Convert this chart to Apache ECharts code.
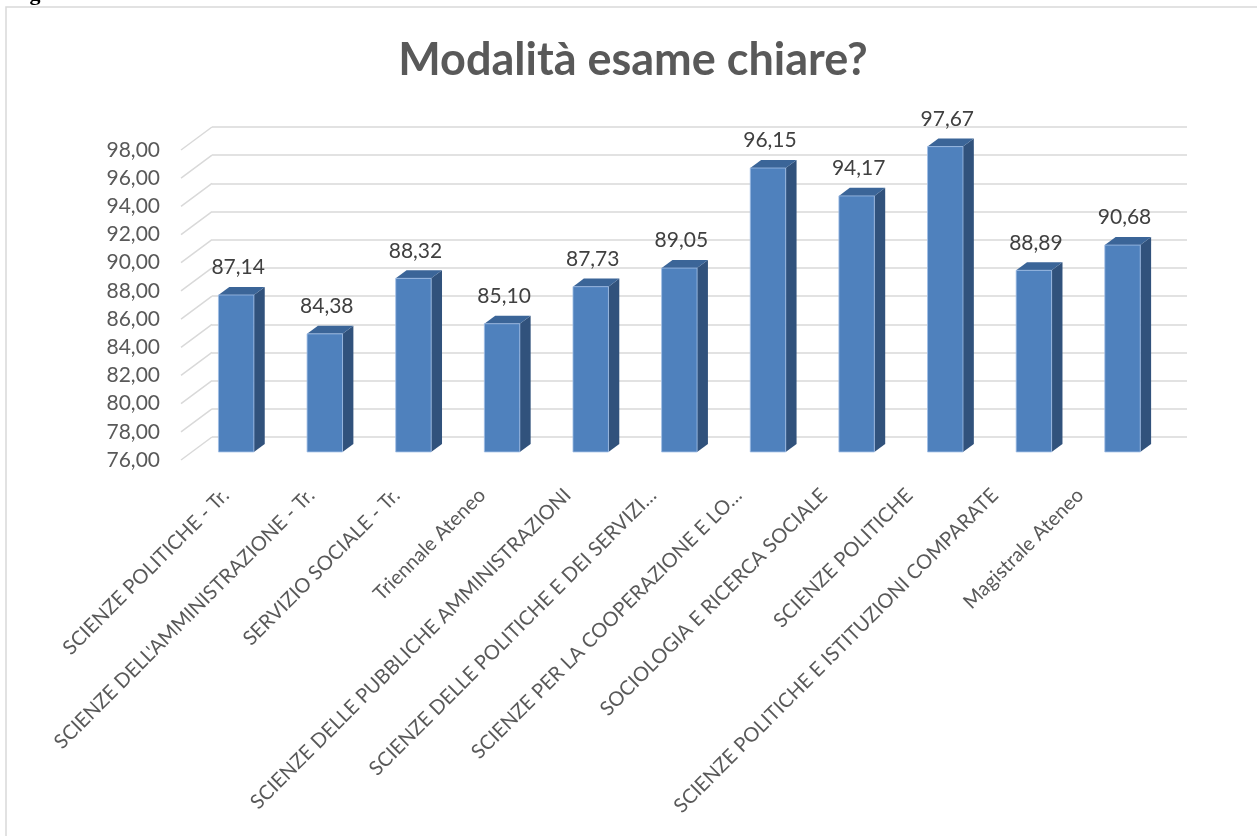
<!DOCTYPE html>
<html>
<head>
<meta charset="utf-8">
<title>Modalità esame chiare?</title>
<script src="https://cdn.jsdelivr.net/npm/echarts@6/dist/echarts.min.js"></script>
<style>
  html, body { margin: 0; padding: 0; background: #fff; }
  #chart { width: 1257px; height: 836px; }
</style>
</head>
<body>
<div id="chart"></div>
<script>
const categories = [
  "SCIENZE POLITICHE - Tr.",
  "SCIENZE DELL'AMMINISTRAZIONE - Tr.",
  "SERVIZIO SOCIALE - Tr.",
  "Triennale Ateneo",
  "SCIENZE DELLE PUBBLICHE AMMINISTRAZIONI",
  "SCIENZE DELLE POLITICHE E DEI SERVIZI…",
  "SCIENZE PER LA COOPERAZIONE E LO…",
  "SOCIOLOGIA E RICERCA SOCIALE",
  "SCIENZE POLITICHE",
  "SCIENZE POLITICHE E ISTITUZIONI COMPARATE",
  "Magistrale Ateneo"
];
const values = [87.14, 84.38, 88.32, 85.10, 87.73, 89.05, 96.15, 94.17, 97.67, 88.89, 90.68];
const yTicks = [76, 78, 80, 82, 84, 86, 88, 90, 92, 94, 96, 98];

// 3d look: back wall is shifted from the front plane by this much
const DEPTH_X = 31;
const DEPTH_Y = -23;
const BAR_FRONT = 0.35;
const BAR_BACK = 0.7;

const fmt = (v) => v.toFixed(2).replace(".", ",");
const FONT = "Lato, 'Noto Sans', sans-serif";

const chart = echarts.init(document.getElementById("chart"), null, { renderer: "canvas" });

function renderBar(params, api) {
  const i = api.value(0);
  const v = api.value(1);
  const top = api.coord([i, v]);
  const base = api.coord([i, yTicks[0]]);
  const bw = api.size([1, 0])[0] * 0.4;
  const fx = DEPTH_X * BAR_FRONT, fy = DEPTH_Y * BAR_FRONT;
  const dx = DEPTH_X * (BAR_BACK - BAR_FRONT), dy = DEPTH_Y * (BAR_BACK - BAR_FRONT);
  const x = top[0] + fx - bw / 2;
  const yt = top[1] + fy;
  const yb = base[1] + fy;
  return {
    type: "group",
    children: [
      {
        type: "polygon",
        shape: { points: [[x + bw, yt], [x + bw + dx, yt + dy], [x + bw + dx, yb + dy], [x + bw, yb]] },
        style: { fill: "#31527c" }
      },
      {
        type: "polygon",
        shape: { points: [[x, yt], [x + dx, yt + dy], [x + bw + dx, yt + dy], [x + bw, yt]] },
        style: { fill: "#3b6598" }
      },
      {
        type: "rect",
        shape: { x: x, y: yt, width: bw, height: yb - yt },
        style: { fill: "#4f81bd", stroke: "rgba(160,190,230,0.8)", lineWidth: 1 }
      },
      {
        type: "text",
        x: x + bw / 2 + 2,
        y: yt + dy - 9,
        style: {
          text: fmt(v),
          fill: "#404040",
          font: "21px " + FONT,
          align: "center",
          verticalAlign: "bottom"
        }
      }
    ]
  };
}

function renderDiag(params, api) {
  const v = api.value(0);
  const p = api.coord([0, v]);
  const x0 = params.coordSys.x;
  return {
    type: "line",
    shape: { x1: x0, y1: p[1], x2: x0 + DEPTH_X, y2: p[1] + DEPTH_Y },
    style: { stroke: "#d9d9d9", lineWidth: 1.5 }
  };
}

const option = {
  animation: false,
  title: {
    text: "Modalità esame chiare?",
    left: 628,
    textAlign: "center",
    top: 33,
    textStyle: { fontFamily: FONT, fontSize: 45, fontWeight: "bold", color: "#595959" }
  },
  graphic: [
    {
      type: "rect",
      shape: { x: 6, y: 7, width: 1400, height: 1000 },
      style: { fill: "none", stroke: "#d9d9d9", lineWidth: 1.5 },
      silent: true
    },
    {
      type: "text",
      x: 10,
      y: -17,
      style: { text: "Figura 1", font: "bold 22px 'Liberation Serif', serif", fill: "#000" }
    }
  ],
  grid: [
    { left: 181, top: 150, width: 975, height: 310 },
    { left: 181 + DEPTH_X, top: 150 + DEPTH_Y, width: 975, height: 310 },
    { left: 183, top: 464, width: 940, height: 20 }
  ],
  xAxis: [
    { gridIndex: 0, type: "category", data: categories, show: false },
    { gridIndex: 1, type: "category", data: categories, show: false },
    {
      gridIndex: 2, type: "category", data: categories, position: "bottom",
      axisLine: { show: false }, axisTick: { show: false },
      axisLabel: { rotate: 45, interval: 0, margin: 8, color: "#595959", fontSize: 20, fontFamily: FONT }
    }
  ],
  yAxis: [
    {
      gridIndex: 0, type: "value", min: 76, max: 98, interval: 2,
      axisLine: { show: false }, axisTick: { show: false }, splitLine: { show: false },
      axisLabel: { formatter: fmt, margin: 21, color: "#595959", fontSize: 21, fontFamily: FONT }
    },
    {
      gridIndex: 1, type: "value", min: 76, max: 98, interval: 2,
      axisLine: { show: false }, axisTick: { show: false }, axisLabel: { show: false },
      splitLine: { lineStyle: { color: "#d9d9d9", width: 1.5 } }
    },
    { gridIndex: 2, type: "value", show: false }
  ],
  series: [
    {
      type: "custom",
      xAxisIndex: 0, yAxisIndex: 0,
      renderItem: renderDiag,
      data: yTicks.map((t) => [t]),
      z: 1,
      silent: true
    },
    {
      type: "custom",
      xAxisIndex: 0, yAxisIndex: 0,
      renderItem: renderBar,
      data: values.map((v, i) => [i, v]),
      z: 5
    }
  ]
};

chart.setOption(option);
</script>
</body>
</html>
